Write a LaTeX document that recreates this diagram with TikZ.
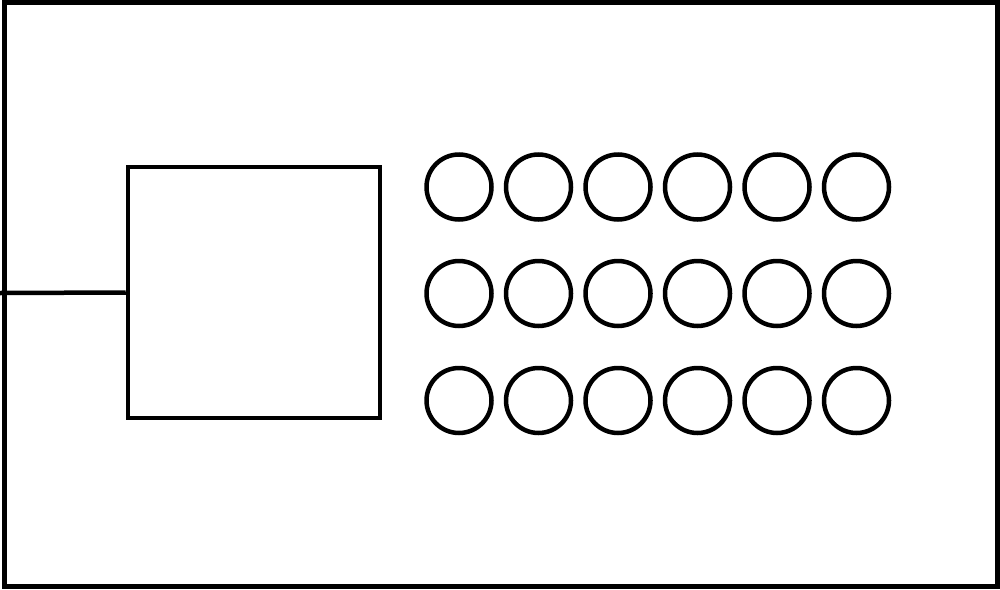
\documentclass[tikz,border=0pt]{standalone}
\begin{document}
\begin{tikzpicture}[x=1pt,y=-1pt,
  line width=4.5pt,
  frame/.style={draw=black},
  dot/.style={draw=black,circle,inner sep=0pt,minimum size=65pt,line width=4.5pt},
  box/.style={draw=black,rectangle,inner sep=0pt,minimum width=252pt,minimum height=251pt,line width=4.5pt}]
\useasboundingbox (0,0) rectangle (1000,589);
\fill[white] (0,0) rectangle (1000,589);
\draw[frame] (4.5,2.5) rectangle (997.5,586.5);
\node[box] (sq) at (254,292.5) {};
\coordinate (edge) at (0,293);
\draw (edge) -- (sq.west);
\foreach \r/\y in {1/187,2/293.5,3/400.5}{
  \foreach \c/\x in {1/459,2/538.5,3/618,4/697.5,5/777,6/856.5}{
    \node[dot] (c\r\c) at (\x,\y) {};
  }
}
\end{tikzpicture}
\end{document}
